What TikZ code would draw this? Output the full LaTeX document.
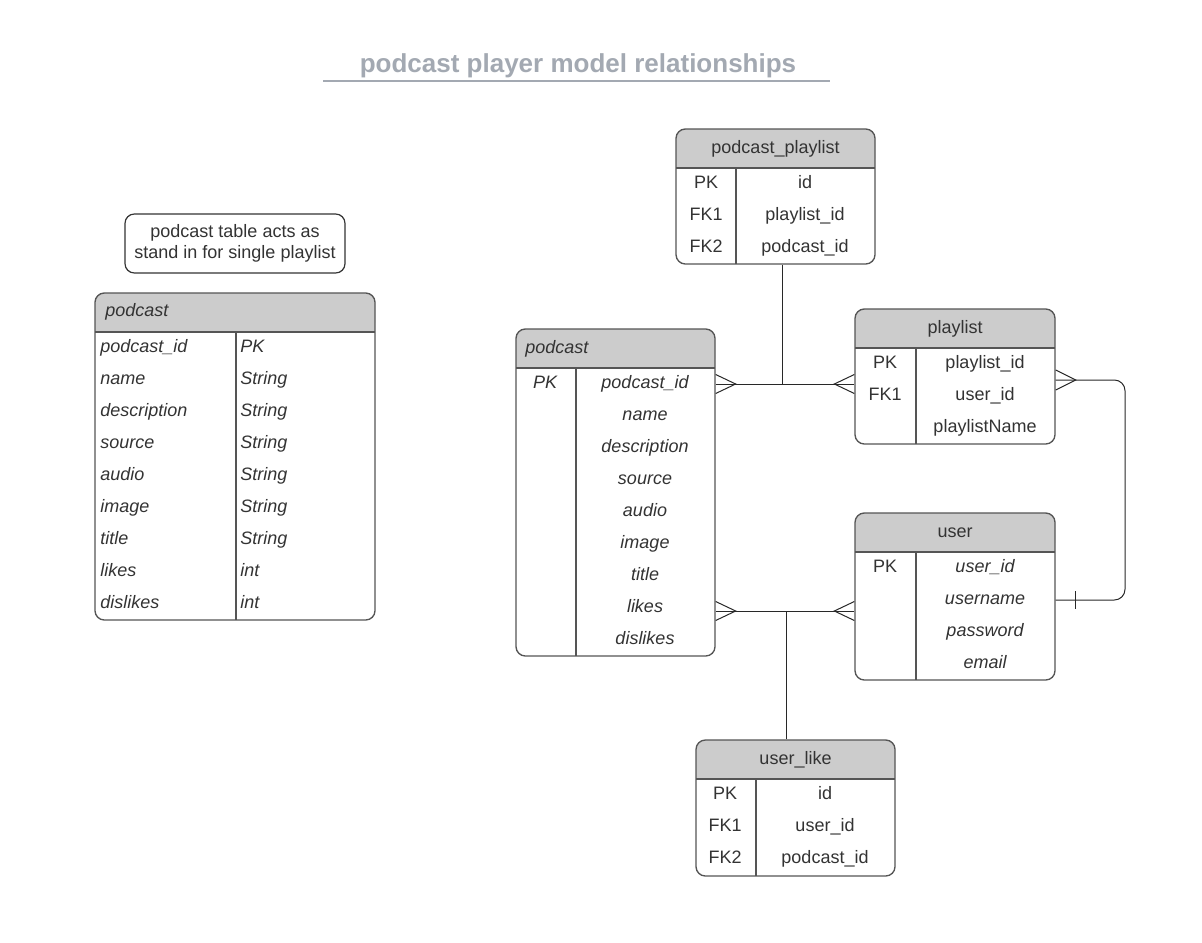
\documentclass[tikz,border=0pt]{standalone}
\usepackage{fontspec}
\setmainfont{Liberation Sans}
\usetikzlibrary{fit,calc}
\definecolor{hdrfill}{RGB}{204,204,204}
\definecolor{bordercol}{RGB}{85,85,85}
\definecolor{txtcol}{RGB}{51,51,51}
\definecolor{linecol}{RGB}{40,40,40}
\definecolor{titlecol}{RGB}{163,169,178}
\tikzset{
  tbl/.style={draw=bordercol, line width=1pt, rounded corners=7pt, inner sep=0pt},
  tblline/.style={draw=bordercol, line width=1pt},
  cell/.style={font=\fontsize{13.5}{16}\selectfont, text=txtcol, inner sep=0pt, text height=1em, text depth=0.08em},
  icell/.style={cell, font=\fontsize{13.5}{16}\selectfont\itshape},
  conn/.style={draw=linecol, line width=0.75pt},
}
\newcommand\ertable[7]{%
  \fill[hdrfill, rounded corners=7pt] (#2,#3) rectangle (#4,#6);
  \fill[hdrfill] (#2,{#6-12}) rectangle (#4,#6);
  \node[tbl, fit={(#2,#3) (#4,#5)}] (#1) {};
  \draw[tblline] (#2,#6) -- (#4,#6) (#7,#6) -- (#7,#5);
}
\begin{document}
\begin{tikzpicture}[x=0.75pt,y=-0.75pt]
\useasboundingbox (0,0) rectangle (1202,942);
\fill[white] (0,0) rectangle (1202,942);

% title
\node[font=\fontsize{19.5}{22}\selectfont\bfseries, text=titlecol, inner sep=0pt] (title) at (578,66) {podcast player model relationships};
\coordinate (ulA) at (323,81);
\coordinate (ulB) at (830,81);
\draw[titlecol, line width=1.5pt] (ulA) -- (ulB);

% note
\node[draw=txtcol, line width=0.9pt, rounded corners=7pt, minimum width=220*0.75pt, minimum height=59*0.75pt, align=center,
      font=\fontsize{13.5}{15.8}\selectfont, text=txtcol, inner sep=0pt] (note) at (235,243.5)
  {podcast table acts as\\stand in for single playlist};

% left podcast table
\ertable{lpod}{95}{293}{375}{620}{332}{236}
\node[icell, anchor=west] (lpodh) at (105,310) {podcast};
\foreach \a/\b [count=\i from 0] in {podcast\_id/PK, name/String, description/String, source/String, audio/String, image/String, title/String, likes/int, dislikes/int}{
  \node[icell, anchor=west] (lpa\i) at (100,346+32*\i) {\a};
  \node[icell, anchor=west] (lpb\i) at (240,346+32*\i) {\b};
}

% podcast_playlist
\ertable{pp}{676}{129}{875}{264}{168}{736}
\node[cell] (pph) at (775.5,147) {podcast\_playlist};
\foreach \a/\b [count=\i from 0] in {PK/id, FK1/playlist\_id, FK2/podcast\_id}{
  \node[cell] (ppa\i) at (706,182+32*\i) {\a};
  \node[cell] (ppb\i) at (805,182+32*\i) {\b};
}

% middle podcast
\ertable{pod}{516}{329}{715}{656}{368}{576}
\node[icell, anchor=west] (podh) at (525,347) {podcast};
\node[icell] (podk) at (545,382) {PK};
\foreach \a [count=\i from 0] in {podcast\_id, name, description, source, audio, image, title, likes, dislikes}{
  \node[icell] (podb\i) at (645,382+32*\i) {\a};
}

% playlist
\ertable{pl}{855}{309}{1055}{444}{348}{916}
\node[cell] (plh) at (955,327) {playlist};
\node[cell] (pla0) at (885,362) {PK};
\node[cell] (pla1) at (885,394) {FK1};
\node[cell] (plb0) at (985,362) {playlist\_id};
\node[cell] (plb1) at (985,394) {user\_id};
\node[cell] (plb2) at (985,426) {playlistName};

% user
\ertable{usr}{855}{513}{1055}{680}{552}{916}
\node[cell] (usrh) at (955,531) {user};
\node[cell] (usra0) at (885,566) {PK};
\foreach \a [count=\i from 0] in {user\_id, username, password, email}{
  \node[icell] (usrb\i) at (985,566+32*\i) {\a};
}

% user_like
\ertable{ul}{696}{740}{895}{876}{779}{756}
\node[cell] (ulh) at (795.5,758) {user\_like};
\foreach \a/\b [count=\i from 0] in {PK/id, FK1/user\_id, FK2/podcast\_id}{
  \node[cell] (ula\i) at (725,793+32*\i) {\a};
  \node[cell] (ulb\i) at (825,793+32*\i) {\b};
}

% connector: podcast -- playlist via podcast_playlist
\coordinate (j1) at (782,384);
\draw[conn] (pod.east |- j1) -- (pl.west |- j1);
\draw[conn] (pp.south -| j1) -- (j1);
\draw[conn] ($(pod.east |- j1)+(0,-9.5)$) -- ++(20,9.5) -- ++(-20,9.5);
\draw[conn] ($(pl.west |- j1)+(0,-9.5)$) -- ++(-20,9.5) -- ++(20,9.5);

% connector: playlist -- user
\coordinate (j2a) at (1125,380);
\coordinate (j2b) at (1125,600);
\draw[conn, rounded corners=8pt] (pl.east |- j2a) -- (j2a) -- (j2b) -- (usr.east |- j2b);
\draw[conn] ($(pl.east |- j2a)+(0,-10)$) -- ++(20,10) -- ++(-20,10);
\draw[conn] ($(usr.east |- j2b)+(20,-9)$) -- ++(0,18);

% connector: podcast -- user via user_like
\coordinate (j3) at (786,611);
\draw[conn] (pod.east |- j3) -- (usr.west |- j3);
\draw[conn] (ul.north -| j3) -- (j3);
\draw[conn] ($(pod.east |- j3)+(0,-9.5)$) -- ++(20,9.5) -- ++(-20,9.5);
\draw[conn] ($(usr.west |- j3)+(0,-9.5)$) -- ++(-20,9.5) -- ++(20,9.5);
\end{tikzpicture}
\end{document}
